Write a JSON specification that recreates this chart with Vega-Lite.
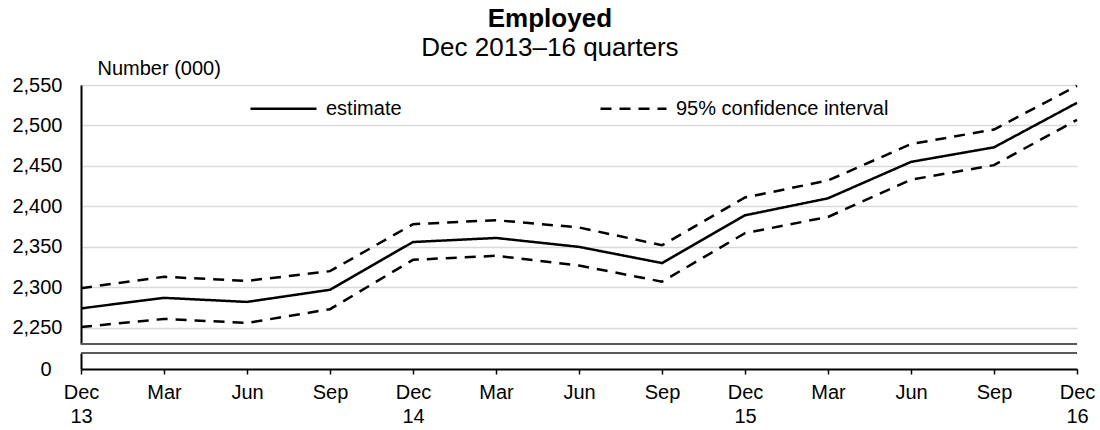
{
  "$schema": "https://vega.github.io/schema/vega-lite/v6.json",
  "padding": {"left": 5, "top": 6, "right": 0, "bottom": 4},
  "background": "white",
  "title": {
    "text": "Employed",
    "subtitle": "Dec 2013–16 quarters",
    "font": "Liberation Sans",
    "fontSize": 26,
    "fontWeight": "bold",
    "color": "black",
    "subtitleFont": "Liberation Sans",
    "subtitleFontSize": 26,
    "subtitleColor": "black",
    "subtitlePadding": 3,
    "anchor": "middle",
    "offset": -3
  },
  "config": {
    "font": "Liberation Sans",
    "view": {"stroke": null}
  },
  "data": {
    "values": [
      {"period": "Dec 13", "series": "estimate", "type": "estimate", "value": 2274},
      {"period": "Mar 14", "series": "estimate", "type": "estimate", "value": 2287},
      {"period": "Jun 14", "series": "estimate", "type": "estimate", "value": 2282},
      {"period": "Sep 14", "series": "estimate", "type": "estimate", "value": 2297},
      {"period": "Dec 14", "series": "estimate", "type": "estimate", "value": 2356},
      {"period": "Mar 15", "series": "estimate", "type": "estimate", "value": 2361},
      {"period": "Jun 15", "series": "estimate", "type": "estimate", "value": 2350},
      {"period": "Sep 15", "series": "estimate", "type": "estimate", "value": 2330},
      {"period": "Dec 15", "series": "estimate", "type": "estimate", "value": 2389},
      {"period": "Mar 16", "series": "estimate", "type": "estimate", "value": 2410},
      {"period": "Jun 16", "series": "estimate", "type": "estimate", "value": 2455},
      {"period": "Sep 16", "series": "estimate", "type": "estimate", "value": 2473},
      {"period": "Dec 16", "series": "estimate", "type": "estimate", "value": 2528},
      {"period": "Dec 13", "series": "upper", "type": "95% confidence interval", "value": 2299},
      {"period": "Mar 14", "series": "upper", "type": "95% confidence interval", "value": 2313},
      {"period": "Jun 14", "series": "upper", "type": "95% confidence interval", "value": 2308},
      {"period": "Sep 14", "series": "upper", "type": "95% confidence interval", "value": 2320},
      {"period": "Dec 14", "series": "upper", "type": "95% confidence interval", "value": 2378},
      {"period": "Mar 15", "series": "upper", "type": "95% confidence interval", "value": 2383},
      {"period": "Jun 15", "series": "upper", "type": "95% confidence interval", "value": 2374},
      {"period": "Sep 15", "series": "upper", "type": "95% confidence interval", "value": 2352},
      {"period": "Dec 15", "series": "upper", "type": "95% confidence interval", "value": 2411},
      {"period": "Mar 16", "series": "upper", "type": "95% confidence interval", "value": 2432},
      {"period": "Jun 16", "series": "upper", "type": "95% confidence interval", "value": 2477},
      {"period": "Sep 16", "series": "upper", "type": "95% confidence interval", "value": 2495},
      {"period": "Dec 16", "series": "upper", "type": "95% confidence interval", "value": 2549},
      {"period": "Dec 13", "series": "lower", "type": "95% confidence interval", "value": 2251},
      {"period": "Mar 14", "series": "lower", "type": "95% confidence interval", "value": 2261},
      {"period": "Jun 14", "series": "lower", "type": "95% confidence interval", "value": 2256},
      {"period": "Sep 14", "series": "lower", "type": "95% confidence interval", "value": 2273},
      {"period": "Dec 14", "series": "lower", "type": "95% confidence interval", "value": 2334},
      {"period": "Mar 15", "series": "lower", "type": "95% confidence interval", "value": 2339},
      {"period": "Jun 15", "series": "lower", "type": "95% confidence interval", "value": 2327},
      {"period": "Sep 15", "series": "lower", "type": "95% confidence interval", "value": 2307},
      {"period": "Dec 15", "series": "lower", "type": "95% confidence interval", "value": 2367},
      {"period": "Mar 16", "series": "lower", "type": "95% confidence interval", "value": 2387},
      {"period": "Jun 16", "series": "lower", "type": "95% confidence interval", "value": 2433},
      {"period": "Sep 16", "series": "lower", "type": "95% confidence interval", "value": 2451},
      {"period": "Dec 16", "series": "lower", "type": "95% confidence interval", "value": 2507}
    ]
  },
  "spacing": 7,
  "resolve": {"scale": {"y": "independent"}, "legend": {"strokeDash": "independent"}},
  "vconcat": [
    {
      "width": 996,
      "height": 259,
      "layer": [
        {
          "mark": {"type": "line", "strokeWidth": 2.5, "color": "black"},
          "encoding": {
            "x": {
              "field": "period",
              "type": "ordinal",
              "sort": null,
              "scale": {"type": "point", "padding": 0},
              "axis": null
            },
            "y": {
              "field": "value",
              "type": "quantitative",
              "scale": {"domain": [2230, 2550], "nice": false, "zero": false},
              "axis": {
                "values": [2250, 2300, 2350, 2400, 2450, 2500, 2550],
                "format": ",.0f",
                "grid": true,
                "gridColor": "#d9d9d9",
                "gridWidth": 1.5,
                "ticks": false,
                "domain": true,
                "domainColor": "black",
                "domainWidth": 2,
                "labelFontSize": 20,
                "labelColor": "black",
                "labelPadding": 19,
                "minExtent": 76,
                "maxExtent": 76,
                "title": "Number (000)",
                "titleAngle": 0,
                "titleAlign": "left",
                "titleBaseline": "alphabetic",
                "titleFontWeight": "normal",
                "titleFontSize": 20,
                "titleColor": "black",
                "titleX": 16,
                "titleY": -11
              }
            },
            "detail": {"field": "series"},
            "strokeDash": {
              "field": "type",
              "type": "nominal",
              "scale": {
                "domain": ["estimate", "95% confidence interval"],
                "range": [[1, 0], [11, 8]]
              },
              "legend": {
                "orient": "none",
                "legendX": 168,
                "legendY": -11,
                "direction": "horizontal",
                "title": null,
                "symbolType": "stroke",
                "symbolSize": 4356,
                "symbolStrokeWidth": 2.5,
                "symbolStrokeColor": "black",
                "labelFontSize": 20,
                "labelColor": "black",
                "labelOffset": 8,
                "labelLimit": 400,
                "columnPadding": 193,
                "gridAlign": "each",
                "padding": 0
              }
            }
          }
        },
        {
          "data": {"values": [{"b": 0}]},
          "mark": {"type": "rule", "color": "#595959", "strokeWidth": 2},
          "encoding": {"y": {"datum": 2230}}
        }
      ]
    },
    {
      "width": 996,
      "height": 16,
      "layer": [
        {
          "mark": {"type": "point", "opacity": 0},
          "encoding": {
            "x": {
              "field": "period",
              "type": "ordinal",
              "sort": null,
              "scale": {"type": "point", "padding": 0},
              "axis": {
                "title": null,
                "labelAngle": 0,
                "labelFontSize": 20,
                "labelColor": "black",
                "labelLineHeight": 24,
                "labelPadding": 8,
                "labelExpr": "slice(datum.label,0,3) == 'Dec' ? ['Dec', slice(datum.label,4)] : slice(datum.label,0,3)",
                "domainColor": "black",
                "domainWidth": 2,
                "tickColor": "black",
                "tickWidth": 1.5,
                "tickSize": 5,
                "grid": false
              }
            },
            "y": {
              "datum": 0,
              "type": "quantitative",
              "scale": {"domain": [0, 10], "nice": false},
              "axis": {
                "values": [0],
                "title": null,
                "grid": false,
                "ticks": false,
                "domainColor": "black",
                "domainWidth": 2,
                "labelFontSize": 20,
                "labelColor": "black",
                "labelPadding": 30,
                "minExtent": 76,
                "maxExtent": 76
              }
            }
          }
        },
        {
          "data": {"values": [{"b": 0}]},
          "mark": {"type": "rule", "color": "#595959", "strokeWidth": 2},
          "encoding": {"y": {"datum": 10}}
        }
      ]
    }
  ]
}
